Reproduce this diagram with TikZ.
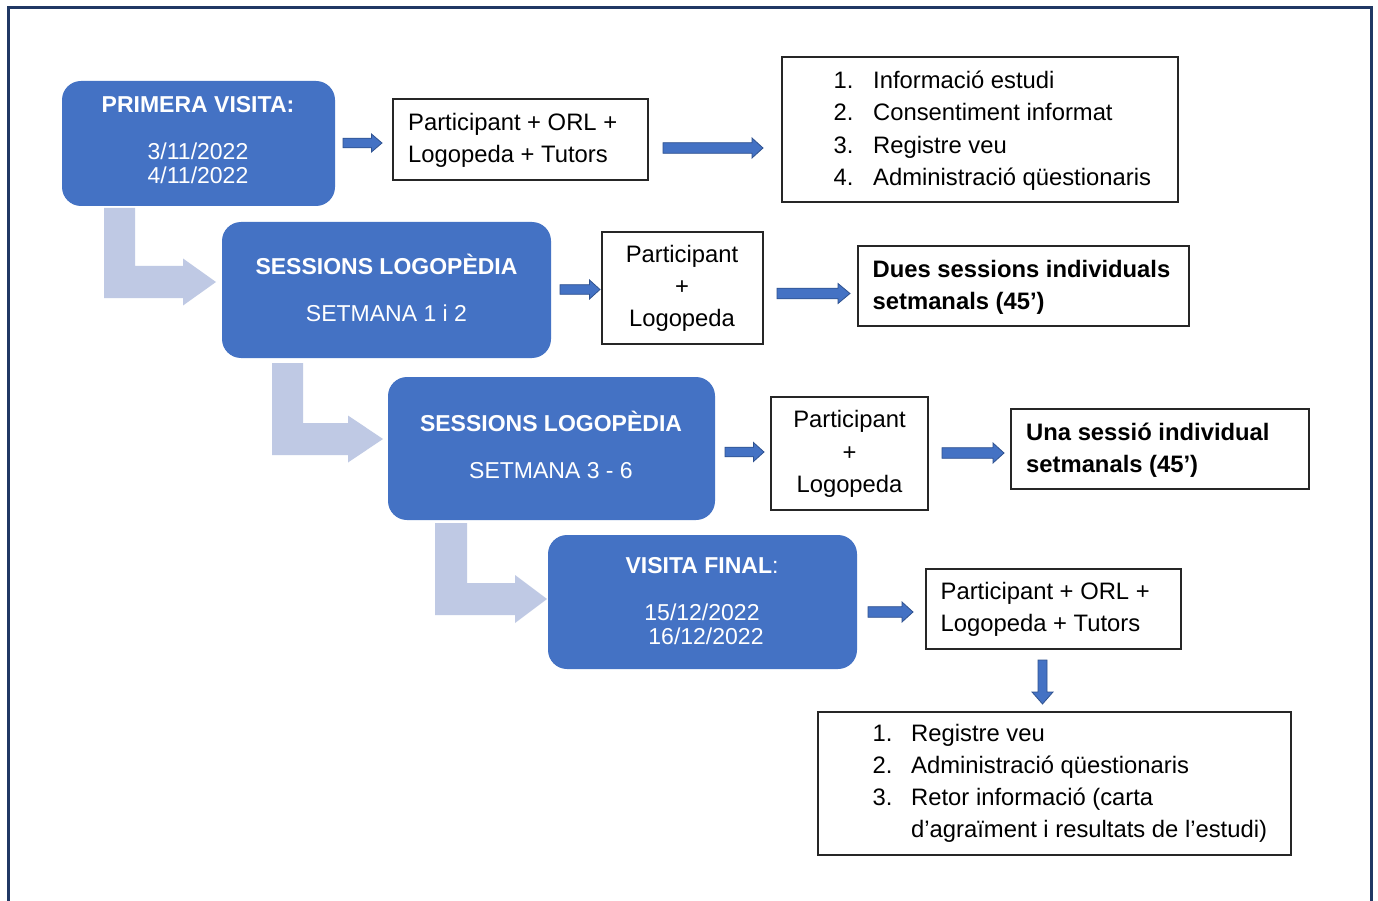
\documentclass[tikz,border=0pt]{standalone}
\usepackage{fontspec}
\setmainfont{Liberation Sans}
\usetikzlibrary{calc}
\definecolor{boxblue}{HTML}{4472C4}
\definecolor{arrline}{HTML}{2F528F}
\definecolor{bentc}{RGB}{191,201,228}
\definecolor{framec}{RGB}{32,56,100}
\newcommand\wfont{\fontsize{23.8}{28}\selectfont}
\newcommand\bfontsz{\fontsize{23}{27}\selectfont}
% horizontal block arrow: tail, tip, shaft half, head half, head length
\newcommand\harr[5]{\filldraw[blockarr] ($(#1)+(0,-#3)$) -- ($(#2)+(-#5,-#3)$) -- ($(#2)+(-#5,-#4)$) -- (#2) -- ($(#2)+(-#5,#4)$) -- ($(#2)+(-#5,#3)$) -- ($(#1)+(0,#3)$) -- cycle;}
% vertical (down) block arrow
\newcommand\varr[5]{\filldraw[blockarr] ($(#1)+(-#3,0)$) -- ($(#2)+(-#3,-#5)$) -- ($(#2)+(-#4,-#5)$) -- (#2) -- ($(#2)+(#4,-#5)$) -- ($(#2)+(#3,-#5)$) -- ($(#1)+(#3,0)$) -- cycle;}
% bent arrow: top-left, tip, bar width, bar half thickness, head half, head length
\newcommand\bentarr[6]{\fill[bentfill] (#1) -- ($(#1)+(#3,0)$) -- ($(#1 |- #2)+(#3,-#4)$) -- ($(#2)+(-#6,-#4)$) -- ($(#2)+(-#6,-#5)$) -- (#2) -- ($(#2)+(-#6,#5)$) -- ($(#2)+(-#6,#4)$) -- ($(#1 |- #2)+(0,#4)$) -- cycle;}
\begin{document}
\begin{tikzpicture}[x=1pt,y=-1pt,
  bluebox/.style={fill=boxblue, draw=none, rounded corners=19pt, inner sep=0pt},
  wbox/.style={draw=black!85, line width=1.2pt, fill=white, inner sep=0pt},
  blockarr/.style={fill=boxblue, draw=arrline, line width=0.8pt, line join=miter},
  bentfill/.style={fill=bentc},
  wtxt/.style={inner sep=0pt, font=\wfont, anchor=base west, text=black},
  wctxt/.style={inner sep=0pt, font=\wfont, anchor=base, text=black},
  btxt/.style={inner sep=0pt, font=\bfontsz, anchor=base, text=white}]
\useasboundingbox (0,0) rectangle (1378,901);
\fill[white] (0,0) rectangle (1378,901);
\draw[framec, line width=3.5pt, line join=miter] (8.5,915) -- (8.5,7.5) -- (1371.5,7.5) -- (1371.5,915);

% bent light arrows
\coordinate (b1top) at (104,208); \coordinate (b1tip) at (216,282);
\coordinate (b2top) at (272,363); \coordinate (b2tip) at (383,439);
\coordinate (b3top) at (435,523); \coordinate (b3tip) at (547,599);
\bentarr{b1top}{b1tip}{31}{16}{23.5}{33}
\bentarr{b2top}{b2tip}{31}{16}{23.5}{35}
\bentarr{b3top}{b3tip}{32}{16}{24}{32}

% blue boxes
\node[bluebox, minimum width=273pt, minimum height=125pt] (p1) at (198.5,143.5) {};
\node[bluebox, minimum width=329pt, minimum height=136pt] (s1) at (386.5,290) {};
\node[bluebox, minimum width=327pt, minimum height=143pt] (s2) at (551.5,448.5) {};
\node[bluebox, minimum width=309pt, minimum height=134pt] (f1) at (702.5,602) {};

\node[btxt] (p1a) at (198,113) {\bfseries PRIMERA VISITA:};
\node[btxt] (p1b) at (198,160) {3/11/2022};
\node[btxt] (p1c) at (198,184) {4/11/2022};
\node[btxt] (s1a) at (386.5,274) {\bfseries SESSIONS LOGOPÈDIA};
\node[btxt] (s1b) at (386.5,321) {SETMANA 1 i 2};
\node[btxt] (s2a) at (551,431) {\bfseries SESSIONS LOGOPÈDIA};
\node[btxt] (s2b) at (551,478) {SETMANA 3 - 6};
\node[btxt] (f1a) at (702,573) {{\bfseries VISITA FINAL}:};
\node[btxt] (f1b) at (702,620.7) {15/12/2022};
\node[btxt] (f1c) at (706,644) {16/12/2022};

% white boxes
\node[wbox, minimum width=255pt, minimum height=81pt] (wa) at (520.5,139.5) {};
\node[wbox, minimum width=396pt, minimum height=145pt] (wb) at (980,129.5) {};
\node[wbox, minimum width=161pt, minimum height=112pt] (wc) at (682.5,288) {};
\node[wbox, minimum width=331pt, minimum height=80pt] (wd) at (1023.5,286) {};
\node[wbox, minimum width=157pt, minimum height=113pt] (we) at (849.5,453.5) {};
\node[wbox, minimum width=298pt, minimum height=80pt] (wf) at (1160,449) {};
\node[wbox, minimum width=255pt, minimum height=80pt] (wg) at (1053.5,609) {};
\node[wbox, minimum width=473pt, minimum height=143pt] (wh) at (1054.5,783.5) {};

\node[wtxt] (wa1) at (408,131) {Participant + ORL +};
\node[wtxt] (wa2) at (408,163) {Logopeda + Tutors};

\node[wtxt] (wb1) at (833.5,88.5) {\makebox[39.5pt][l]{1.}Informació estudi};
\node[wtxt] (wb2) at (833.5,120.8) {\makebox[39.5pt][l]{2.}Consentiment informat};
\node[wtxt] (wb3) at (833.5,153.2) {\makebox[39.5pt][l]{3.}Registre veu};
\node[wtxt] (wb4) at (833.5,185.5) {\makebox[39.5pt][l]{4.}Administració qüestionaris};

\node[wctxt] (wc1) at (682,262) {Participant};
\node[wctxt] (wc2) at (682,294.3) {+};
\node[wctxt] (wc3) at (682,326.5) {Logopeda};

\node[wtxt] (wd1) at (872.5,277) {\bfseries Dues sessions individuals};
\node[wtxt] (wd2) at (872.5,309) {\bfseries setmanals (45’)};

\node[wctxt] (we1) at (849.5,427.5) {Participant};
\node[wctxt] (we2) at (849.5,460) {+};
\node[wctxt] (we3) at (849.5,492.5) {Logopeda};

\node[wtxt] (wf1) at (1026,440) {\bfseries Una sessió individual};
\node[wtxt] (wf2) at (1026,472) {\bfseries setmanals (45’)};

\node[wtxt] (wg1) at (940.5,599.5) {Participant + ORL +};
\node[wtxt] (wg2) at (940.5,631.5) {Logopeda + Tutors};

\node[wtxt] (wh1) at (872.5,741.5) {\makebox[38.5pt][l]{1.}Registre veu};
\node[wtxt] (wh2) at (872.5,773.8) {\makebox[38.5pt][l]{2.}Administració qüestionaris};
\node[wtxt] (wh3) at (872.5,805.3) {\makebox[38.5pt][l]{3.}Retor informació (carta};
\node[wtxt] (wh4) at (872.5,837.2) {\hspace*{38.5pt}d’agraïment i resultats de l’estudi)};

% blue block arrows
\coordinate (a1s) at (343,143);   \coordinate (a1e) at (382,143);
\coordinate (a2s) at (663,148);   \coordinate (a2e) at (763,148);
\coordinate (a3s) at (560,289.5); \coordinate (a3e) at (600,289.5);
\coordinate (a4s) at (777,293.5); \coordinate (a4e) at (850,293.5);
\coordinate (a5s) at (725,452);   \coordinate (a5e) at (764,452);
\coordinate (a6s) at (942,453);   \coordinate (a6e) at (1004,453);
\coordinate (a7s) at (868,612);   \coordinate (a7e) at (913,612);
\coordinate (a8s) at (1042.5,660); \coordinate (a8e) at (1042.5,704);
\harr{a1s}{a1e}{4.8}{9}{10.5}
\harr{a2s}{a2e}{5.3}{10}{11}
\harr{a3s}{a3e}{4.8}{9.5}{10.5}
\harr{a4s}{a4e}{5.3}{10}{12}
\harr{a5s}{a5e}{4.8}{9.5}{10.5}
\harr{a6s}{a6e}{5.3}{10}{11}
\harr{a7s}{a7e}{5.3}{10}{11}
\varr{a8s}{a8e}{4.5}{10.5}{12}
\end{tikzpicture}
\end{document}
